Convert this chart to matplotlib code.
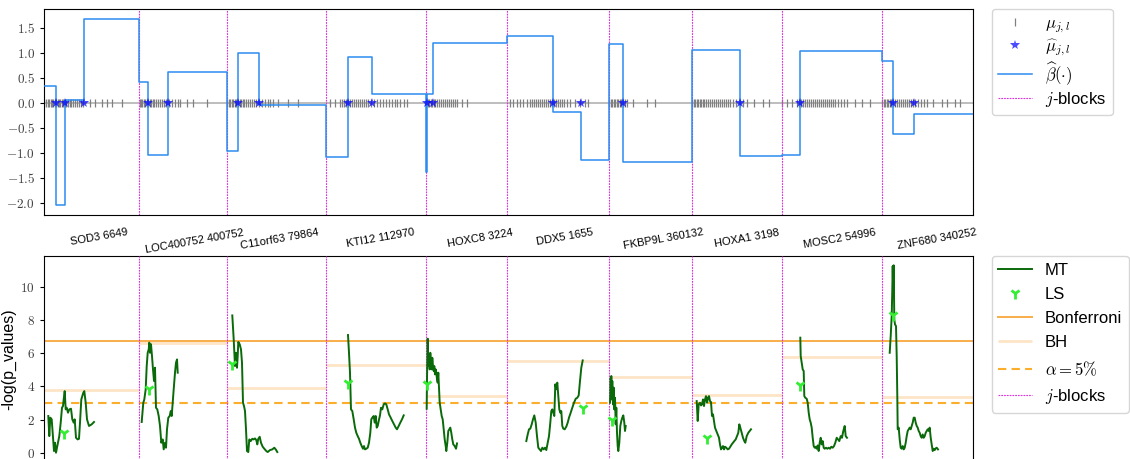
import numpy as np
import matplotlib
matplotlib.use('Agg')
import matplotlib.pyplot as plt
from matplotlib.ticker import FuncFormatter

plt.rcParams['font.family'] = ['Liberation Sans', 'DejaVu Sans']
plt.rcParams['mathtext.fontset'] = 'cm'

# ---------------------------------------------------------------- data
genes = ['SOD3 6649', 'LOC400752 400752', 'C11orf63 79864', 'KTI12 112970',
         'HOXC8 3224', 'DDX5 1655', 'FKBP9L 360132', 'HOXA1 3198',
         'MOSC2 54996', 'ZNF680 340252']
gene_label_pos = [55, 151, 236, 336, 436, 521, 619, 703, 796, 893]
block_edges = [0, 95, 183, 282, 382, 463, 565, 648, 738, 838, 929]

# beta-hat step function: start of each constant piece and its level
beta_starts = [0, 12, 21, 40,
               95, 104, 124,
               183, 194, 215,
               282, 304, 328,
               382, 383, 389,
               463, 509, 537,
               565, 579,
               648, 696,
               738, 756,
               838, 849, 870]
beta_levels = [0.33, -2.05, 0.05, 1.67,
               0.42, -1.04, 0.62,
               -0.96, 1.00, -0.05,
               -1.08, 0.91, 0.17,
               -1.39, 0.18, 1.20,
               1.33, -0.19, -1.15,
               1.18, -1.19,
               1.05, -1.07,
               -1.05, 1.04,
               0.83, -0.62, -0.23]

# estimated change points (mu-hat)
mu_hat_pos = [12, 21, 40, 104, 124, 194, 215, 304, 328, 383, 389,
              509, 537, 579, 696, 756, 849, 870]

# positions of mu_{j,l}
mu_pos = [0, 2, 3.5, 5, 6.5, 8, 9, 10.5, 12, 13.5, 15, 16, 17.5, 19, 20.5, 22, 24,
          25.5, 27, 29, 31, 33, 35, 37, 39, 46, 51, 58, 63, 68, 78,
          95.5, 97, 98.5, 100, 101.5, 103, 104.5, 106, 107.5, 109, 110.5, 112, 114,
          116, 118, 120, 122, 125, 128, 131, 134, 136, 143, 149, 163,
          183.5, 185, 186.5, 188, 189.5, 191, 192.5, 194, 196, 197.5, 199, 200.5, 202,
          204, 206, 208, 210, 212, 215, 218, 221, 224, 226, 229, 234, 244, 254,
          286, 291, 296, 298, 300, 302, 304, 306, 308, 310, 312, 314, 316, 318, 320,
          322, 324, 327, 330, 333, 336, 339, 342, 345, 348, 351, 353, 356, 360, 363,
          382.5, 384, 385.5, 387, 388.5, 390, 391.5, 393, 395, 397, 399, 401, 403, 405,
          407, 409, 411, 413, 418, 423,
          466, 469, 473, 476, 479, 483, 486, 488, 490, 492, 494, 496, 498, 500, 502,
          504, 506, 508, 510, 512, 514, 516, 518, 520, 523, 526, 531, 536, 541, 544,
          565.5, 567, 568.5, 570, 571.5, 573, 574.5, 576, 577.5, 579, 581, 583, 589,
          603, 611,
          648.5, 650, 651.5, 653, 654.5, 656, 657.5, 659, 660.5, 662, 664, 666, 668,
          670, 672, 674, 676, 678, 680, 682, 684, 686, 689, 692, 696, 699, 703, 710,
          719, 725,
          738.5, 743, 748, 753, 755, 757, 759, 761, 763, 765, 767, 769, 771, 773, 775,
          777, 779, 781, 783, 785, 787, 789, 791, 794, 797, 800, 803, 811, 818, 826,
          838.5, 840, 841.5, 843, 844.5, 846, 847.5, 849, 851, 853, 855, 857, 859, 861,
          863, 865, 867, 869, 871, 874, 877, 880, 883, 889, 898, 903, 911, 916]

# -log(p-values) of the multiple testing (MT) scan, one curve per block
mt_x1 = [4.3, 5.3, 6.3, 7.7, 10.0, 11.0, 12.0, 13.3, 14.3, 15.3, 16.7, 18.0, 19.0,
         19.7, 20.7, 21.7, 22.7, 24.0, 25.3, 27.0, 28.3, 29.7, 30.7, 32.0, 33.7,
         35.0, 36.0, 37.3, 39.3, 40.3, 41.7, 43.0, 45.0, 47.7, 50.0]
mt_y1 = [2.21, 1.00, 2.11, 2.01, 0.10, 0.60, 0.00, 0.40, 0.70, 1.00, 1.81, 2.71, 2.81,
         3.21, 3.71, 2.61, 2.71, 2.41, 2.61, 2.65, 2.01, 1.81, 2.01, 0.90, 0.80,
         0.84, 1.81, 3.21, 3.61, 3.71, 3.01, 2.01, 1.61, 1.71, 1.85]
mt_x2 = [97.7, 99.3, 100.3, 101.7, 102.7, 103.7, 104.7, 105.3, 106.0, 107.0, 108.0,
         109.0, 110.0, 111.0, 112.0, 113.3, 114.7, 116.0, 117.3, 118.7, 119.7, 121.0,
         122.0, 123.0, 124.3, 125.7, 126.7, 127.7, 128.7, 129.7, 131.0, 132.0, 133.0,
         133.7]
mt_y2 = [1.85, 3.01, 3.21, 3.82, 5.22, 6.02, 6.22, 6.63, 6.02, 6.53, 5.82,
         5.02, 4.32, 5.12, 2.71, 2.61, 2.21, 1.61, 0.60, 0.80, 0.20, 0.60,
         0.30, 1.41, 2.11, 2.21, 2.51, 2.21, 3.01, 3.82, 4.82, 5.42, 5.62,
         4.82]
mt_x3 = [188.3, 189.7, 191.0, 192.0, 193.0, 193.7, 194.3, 195.7, 197.0, 198.0, 199.0,
         200.0, 201.0, 202.0, 203.0, 204.3, 205.3, 206.7, 208.3, 209.7, 211.0, 212.3,
         213.3, 214.3, 215.7, 217.0, 218.7, 220.3, 222.3, 223.7, 226.0, 228.3, 230.3,
         231.7, 233.3]
mt_y3 = [8.27, 6.83, 5.22, 6.02, 5.12, 5.82, 6.67, 6.53, 6.22, 5.42, 3.01,
         2.81, 2.51, 1.41, 0.10, 0.04, 0.80, 0.70, 0.84, 0.80, 0.86, 0.76,
         0.50, 0.84, 0.96, 0.60, 0.36, 0.24, 0.10, 0.04, 0.16, 0.20, 0.30,
         0.20, 0.04]
mt_x4 = [304.0, 305.0, 306.0, 307.0, 308.3, 309.7, 311.0, 312.3, 313.7, 315.0, 316.3,
         317.7, 319.0, 320.0, 321.0, 322.3, 323.7, 325.0, 326.3, 327.3, 328.3, 329.7,
         330.7, 331.7, 332.7, 333.7, 334.7, 336.0, 337.0, 338.3, 339.7, 341.0, 342.3,
         343.7, 345.0, 346.7, 348.3, 350.0, 351.7, 353.0, 354.7, 356.3, 358.0, 359.7]
mt_y4 = [7.09, 6.02, 4.82, 2.61, 2.51, 2.01, 1.51, 1.20, 1.00, 0.84, 0.60,
         0.40, 0.24, 0.40, 0.20, 0.24, 0.30, 0.60, 1.20, 2.01, 2.11, 2.21,
         1.81, 2.21, 1.51, 1.61, 1.91, 2.25, 2.71, 2.61, 2.91, 2.97, 2.91,
         2.61, 2.31, 2.11, 1.91, 1.71, 1.51, 1.41, 1.61, 1.81, 2.01, 2.25]
mt_x5 = [382.7, 383.0, 383.7, 384.3, 385.0, 385.7, 386.3, 387.0, 387.7, 388.3, 389.0,
         389.7, 390.3, 391.0, 391.7, 392.3, 393.0, 393.7, 394.3, 395.0, 395.7, 396.7,
         397.7, 398.7, 399.7, 400.7, 401.7, 402.3, 403.3, 404.3, 405.3, 406.3, 407.3,
         408.3, 409.3, 410.7, 412.0, 413.0]
mt_y5 = [2.65, 4.42, 6.87, 5.22, 5.82, 5.02, 6.02, 5.42, 5.02, 5.72, 5.22,
         4.92, 5.22, 4.72, 5.02, 4.82, 4.42, 4.22, 4.82, 3.92, 3.01, 2.61,
         2.21, 2.01, 1.41, 0.80, 0.40, 0.10, 0.60, 1.31, 1.41, 1.51, 1.20,
         0.80, 0.50, 0.40, 0.24, 0.56]
mt_x6 = [482.3, 483.7, 485.0, 486.3, 487.7, 489.0, 490.3, 491.7, 493.0, 494.3, 495.7,
         497.0, 498.3, 499.7, 501.0, 502.3, 503.7, 505.0, 506.3, 507.3, 508.3, 509.3,
         510.3, 511.3, 512.3, 513.3, 514.3, 515.3, 516.3, 517.3, 518.3, 519.3, 520.7,
         522.3, 523.7, 525.0, 526.7, 528.3, 530.0, 531.7, 533.3, 534.7, 536.0, 537.3,
         538.7]
mt_y6 = [0.70, 1.10, 1.41, 1.45, 1.71, 2.01, 2.25, 1.81, 1.00, 0.30, 0.20,
         0.10, 0.30, 0.20, 0.30, 0.16, 0.60, 1.00, 1.81, 2.51, 2.61, 2.41,
         2.21, 4.12, 3.82, 4.22, 3.41, 2.61, 2.41, 2.51, 1.61, 1.45, 1.41,
         1.57, 1.81, 2.11, 2.41, 2.71, 3.01, 3.25, 3.31, 3.45, 4.32, 5.12,
         5.56]
mt_x7 = [566.0, 566.3, 566.7, 567.0, 567.3, 567.7, 568.3, 569.0, 569.7, 570.3, 571.0,
         571.7, 572.3, 573.0, 573.7, 574.3, 575.3, 576.3, 577.3, 578.3, 579.3, 580.3,
         581.0, 581.7]
mt_y7 = [3.01, 3.61, 4.52, 3.41, 4.62, 3.21, 4.32, 2.91, 3.92, 2.61, 3.31,
         1.71, 2.71, 1.20, 0.40, 0.10, 0.60, 1.61, 1.91, 2.11, 2.25, 1.81,
         1.31, 1.61]
mt_x8 = [652.7, 653.7, 654.7, 656.0, 657.0, 658.0, 659.0, 660.0, 661.0, 662.0, 663.0,
         664.0, 665.0, 666.0, 667.0, 668.0, 669.0, 670.0, 671.0, 672.3, 673.7, 675.0,
         676.0, 677.0, 678.0, 679.0, 680.0, 681.0, 682.3, 683.7, 685.0, 686.3, 687.7,
         689.0, 690.3, 691.7, 693.0, 694.3, 695.3, 696.3, 697.7, 699.0, 700.3, 701.3,
         702.7, 704.3, 705.7, 707.0]
mt_y8 = [3.11, 1.91, 2.91, 3.01, 2.85, 2.91, 3.21, 2.81, 3.21, 3.41, 3.01,
         3.31, 3.41, 3.11, 3.05, 2.21, 2.31, 1.91, 1.51, 1.31, 1.10, 0.90,
         0.50, 0.20, 0.30, 0.40, 0.20, 0.36, 0.30, 0.20, 0.24, 0.36, 0.50,
         0.60, 0.70, 0.80, 1.00, 1.20, 1.71, 1.51, 1.20, 0.90, 0.70, 0.60,
         1.00, 1.20, 1.31, 1.41]
mt_x9 = [756.3, 756.7, 757.7, 758.7, 759.7, 760.3, 761.3, 762.7, 763.7, 764.7, 765.7,
         766.7, 767.7, 768.7, 769.7, 770.7, 771.7, 772.7, 773.7, 774.7, 775.7, 776.7,
         777.7, 778.7, 779.7, 780.7, 782.0, 783.3, 784.7, 786.0, 787.3, 788.7, 790.0,
         791.3, 792.7, 794.0, 795.3, 796.7, 798.0, 799.3, 800.7, 801.7, 803.0]
mt_y9 = [6.93, 5.82, 5.42, 5.02, 4.92, 3.41, 3.31, 3.25, 3.01, 2.41, 2.01,
         1.81, 1.51, 0.90, 0.40, 0.30, 0.36, 0.24, 0.44, 0.10, 0.60, 0.90,
         0.50, 0.70, 0.30, 0.24, 0.30, 0.24, 0.30, 0.24, 0.36, 0.30, 0.40,
         0.60, 0.90, 0.80, 0.70, 1.00, 0.90, 1.31, 1.61, 1.00, 0.90]
mt_x10 = [845.7, 846.7, 847.7, 848.3, 848.7, 849.3, 849.7, 850.3, 851.0, 852.0, 852.7,
          853.3, 853.7, 854.7, 855.7, 856.7, 857.7, 858.7, 859.7, 860.7, 861.7, 862.7,
          863.7, 864.7, 865.7, 866.7, 867.7, 868.7, 869.7, 870.7, 871.7, 872.7, 873.7,
          874.7, 875.7, 876.7, 877.7, 878.7, 879.7, 880.7, 881.7, 882.7, 883.7, 884.7,
          885.7, 886.7, 887.7, 888.7, 889.7, 890.7, 891.7, 892.7, 894.0]
mt_y10 = [6.02, 7.03, 8.23, 9.84, 11.24, 9.44, 11.29, 8.03, 7.73, 7.63, 5.82,
          3.41, 1.41, 1.51, 0.80, 0.30, 0.24, 0.40, 0.20, 0.30, 0.60, 1.00,
          1.31, 1.41, 1.51, 1.41, 1.61, 1.81, 2.11, 2.11, 1.81, 1.61, 1.51,
          1.31, 1.20, 1.00, 0.90, 1.10, 0.90, 1.00, 1.20, 1.31, 1.41, 1.31,
          1.51, 0.90, 0.50, 0.10, 0.24, 0.16, 0.26, 0.30, 0.20]

# LS (one test per block)
ls_x = [20.3, 105.3, 188.3, 304.3, 383.3, 538.7, 567.7, 662.7, 755.7, 849.0]
ls_y = [1.20, 3.82, 5.32, 4.22, 4.12, 2.71, 1.95, 0.90, 4.06, 8.27]

# thresholds
bonferroni = 6.7
alpha_line = 3.0
bh_levels = [3.76, 6.62, 3.92, 5.28, 3.43, 5.52, 4.58, 3.48, 5.76, 3.37]

mt_xs = [mt_x1, mt_x2, mt_x3, mt_x4, mt_x5, mt_x6, mt_x7, mt_x8, mt_x9, mt_x10]
mt_ys = [mt_y1, mt_y2, mt_y3, mt_y4, mt_y5, mt_y6, mt_y7, mt_y8, mt_y9, mt_y10]

# ---------------------------------------------------------------- figure
W, H = 1130, 459
fig = plt.figure(figsize=(W / 100, H / 100), dpi=100)
ax1 = fig.add_axes([44 / W, 1 - 215 / H, 929 / W, 206 / H])
ax2 = fig.add_axes([44 / W, 1 - 462 / H, 929 / W, 206 / H])

block_color = '#dd33dd'
block_ls = (0, (1.6, 0.9))

# ---- top panel
ax1.axhline(0, color='0.72', lw=1.3, zorder=1)
ax1.plot(mu_pos, np.zeros(len(mu_pos)), '|', color='grey', markersize=5.5,
         markeredgewidth=0.9, label=r'$\mu_{j,l}$', zorder=2)
ax1.plot(mu_hat_pos, np.zeros(len(mu_hat_pos)), '*', color='blue', alpha=0.7,
         markersize=7, markeredgewidth=0, label=r'$\widehat{\mu}_{j,l}$', zorder=4)
ax1.step(beta_starts + [block_edges[-1]], beta_levels + [beta_levels[-1]],
         where='post', color='#2b8cf0', lw=1.1, label=r'$\widehat{\beta}(\cdot)$',
         zorder=3)
for i, e in enumerate(block_edges[1:]):
    ax1.axvline(e, color=block_color, ls=block_ls, lw=0.8,
                label=r'$j$-blocks' if i == 0 else None, zorder=2)

ax1.set_xlim(block_edges[0], block_edges[-1])
ax1.set_ylim(-2.24, 1.87)
ax1.set_yticks([-2.0, -1.5, -1.0, -0.5, 0.0, 0.5, 1.0, 1.5])
ax1.yaxis.set_major_formatter(FuncFormatter(lambda v, p: r'$%.1f$' % v))
ax1.set_xticks(gene_label_pos)
ax1.set_xticklabels(genes, rotation=10, ha='center', fontsize=8)
ax1.tick_params(axis='x', length=0, pad=9)
ax1.tick_params(axis='y', labelsize=9.5, labelcolor='0.25', length=3)
ax1.legend(loc='upper left', bbox_to_anchor=(1.02, 1.0), fontsize=12,
           labelspacing=0.15, borderaxespad=0, handlelength=2.0)

# ---- bottom panel
for i, (xs, ys) in enumerate(zip(mt_xs, mt_ys)):
    ax2.plot(xs, ys, color='#0a6a0a', lw=1.4, label='MT' if i == 0 else None, zorder=4)
ax2.plot(ls_x, ls_y, '1', color='#33ee33', markersize=8, markeredgewidth=2,
         label='LS', zorder=5)
ax2.axhline(bonferroni, color='#f8ad4a', lw=1.4, label='Bonferroni', zorder=2)
for i, lev in enumerate(bh_levels):
    ax2.hlines(lev, block_edges[i], block_edges[i + 1], color='#fde5c6', lw=2.0,
               label='BH' if i == 0 else None, zorder=1)
ax2.axhline(alpha_line, color='#fbae2c', lw=1.5, ls=(0, (4, 2.5)),
            label=r'$\alpha=5\%$', zorder=2)
for i, e in enumerate(block_edges[1:]):
    ax2.axvline(e, color=block_color, ls=block_ls, lw=0.8,
                label=r'$j$-blocks' if i == 0 else None, zorder=3)

ax2.set_xlim(block_edges[0], block_edges[-1])
ax2.set_ylim(-0.56, 11.85)
ax2.set_yticks([0, 2, 4, 6, 8, 10])
ax2.yaxis.set_major_formatter(FuncFormatter(lambda v, p: r'$%d$' % v))
ax2.set_xticks([])
ax2.tick_params(axis='y', labelsize=9.5, labelcolor='0.25', length=3)
ax2.set_ylabel('-log(p_values)', fontsize=11.5, labelpad=3)
ax2.legend(loc='upper left', bbox_to_anchor=(1.02, 1.0), fontsize=12,
           labelspacing=0.55, borderaxespad=0, handlelength=2.0)

fig.savefig('out.png', dpi=100)
